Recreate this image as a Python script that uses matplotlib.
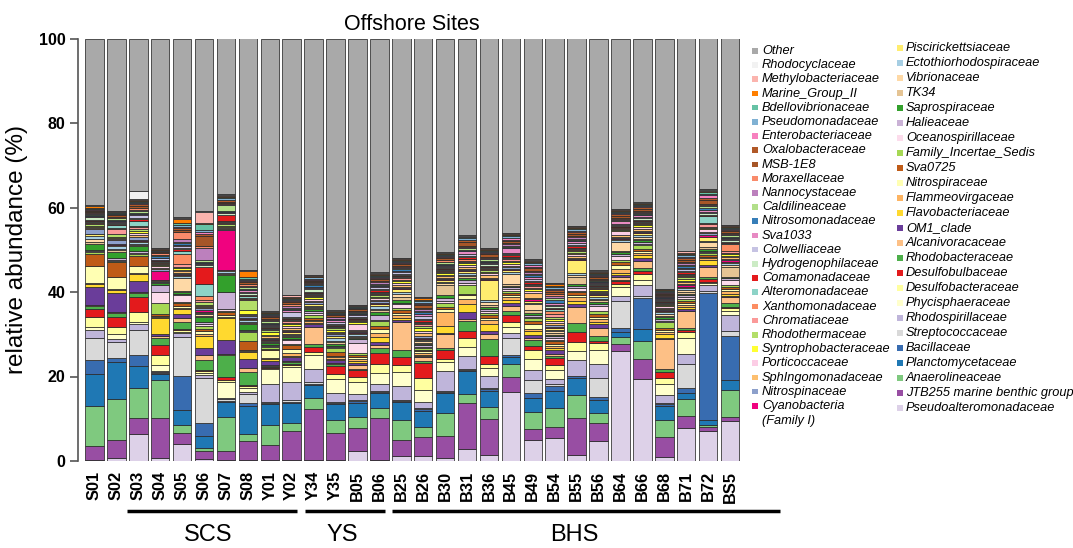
import matplotlib
matplotlib.use("Agg")
import matplotlib.pyplot as plt
from matplotlib.patches import Rectangle
import numpy as np
import pandas as pd

plt.rcParams['font.family'] = ['Liberation Sans', 'DejaVu Sans']

samples = ["S01", "S02", "S03", "S04", "S05", "S06", "S07", "S08", "Y01", "Y02",
           "Y34", "Y35", "B05", "B06", "B25", "B26", "B30", "B31", "B36", "B45",
           "B49", "B54", "B55", "B56", "B64", "B66", "B68", "B71", "B72", "BS5"]

# ---- data (relative abundance, %), stacked bottom -> top ----
Pseudoalteromonadaceae = [0.3, 0.8, 6.5, 0.8, 4.0, 0.4, 0.3, 0.2, 0.2, 0.2, 0.2, 0.3, 2.4, 0.3, 1.2, 1.2, 0.6, 2.8, 1.4, 16.4, 4.9, 5.4, 1.4, 4.8, 26.0, 19.3, 0.9, 7.7, 7.1, 9.6]
JTB255 = [3.2, 4.1, 3.8, 9.5, 2.6, 2.0, 2.0, 4.5, 3.5, 6.9, 12.1, 6.3, 5.3, 9.8, 3.7, 4.5, 5.2, 11.0, 8.5, 3.5, 2.6, 2.7, 8.7, 4.1, 1.6, 4.8, 4.7, 3.0, 0.8, 0.8]
Anaerolineaceae = [9.5, 9.7, 7.2, 9.0, 1.9, 0.8, 8.3, 1.7, 4.8, 2.0, 2.7, 3.2, 2.7, 2.4, 4.8, 2.4, 5.6, 2.0, 2.7, 2.9, 4.1, 4.5, 5.4, 2.4, 1.7, 4.3, 4.1, 3.8, 0.5, 6.5]
Planctomycetaceae = [7.7, 8.9, 5.1, 1.3, 3.5, 2.7, 3.5, 6.7, 4.9, 4.7, 3.0, 3.7, 3.4, 3.6, 4.1, 3.8, 4.7, 5.5, 4.0, 1.8, 3.2, 3.9, 4.1, 3.0, 1.2, 2.8, 3.3, 1.6, 1.2, 2.4]
Bacillaceae = [3.3, 0.9, 2.6, 0.3, 8.1, 3.1, 0.3, 0.6, 0.3, 0.3, 0.3, 0.3, 0.3, 0.3, 0.3, 0.3, 0.3, 0.3, 0.4, 0.4, 1.2, 1.3, 0.3, 0.8, 1.0, 7.4, 0.4, 1.1, 29.8, 10.5]
Streptococcaceae = [5.1, 3.9, 6.1, 0.2, 9.2, 10.6, 0.3, 2.2, 0.2, 0.3, 0.3, 0.2, 0.2, 0.2, 0.2, 0.2, 0.2, 0.2, 0.2, 4.0, 3.2, 0.3, 0.2, 4.5, 6.4, 0.3, 0.2, 5.6, 0.4, 1.0]
Rhodospirillaceae = [1.9, 0.6, 1.3, 0.3, 1.0, 0.8, 0.3, 0.4, 4.4, 4.3, 3.1, 2.0, 1.6, 1.6, 3.3, 1.6, 4.7, 3.0, 2.8, 1.2, 2.2, 1.2, 3.7, 3.2, 1.2, 2.8, 2.0, 2.4, 1.5, 3.9]
Phycisphaeraceae = [0.8, 1.3, 0.5, 1.5, 0.3, 0.4, 3.9, 1.0, 3.5, 3.6, 3.3, 3.5, 2.8, 2.5, 3.4, 2.8, 2.0, 2.2, 2.0, 1.5, 2.6, 2.1, 2.0, 3.4, 2.0, 1.2, 2.6, 3.8, 0.5, 1.0]
Desulfobacteraceae = [2.2, 1.6, 2.3, 2.3, 0.4, 0.5, 0.3, 0.3, 0.3, 0.4, 0.8, 1.0, 1.2, 2.2, 1.7, 2.8, 0.9, 2.0, 0.9, 1.2, 2.2, 1.2, 2.1, 1.7, 0.8, 1.2, 1.4, 1.4, 0.3, 0.7]
Desulfobulbaceae = [2.0, 2.5, 3.7, 2.4, 0.3, 0.3, 0.9, 0.3, 0.2, 0.3, 1.2, 1.9, 1.6, 2.6, 1.8, 3.5, 2.0, 1.8, 1.8, 1.6, 1.0, 1.6, 2.4, 0.4, 0.6, 0.8, 1.4, 0.5, 0.5, 0.3]
Rhodobacteraceae = [0.7, 0.8, 1.0, 1.6, 1.6, 2.4, 5.2, 3.2, 0.2, 0.4, 0.8, 0.5, 0.3, 1.3, 1.7, 0.5, 0.5, 2.3, 4.1, 1.0, 1.3, 0.5, 2.2, 1.2, 0.4, 0.8, 0.8, 0.5, 0.6, 0.8]
Alcanivoracaceae = [0.2, 0.2, 0.2, 0.4, 1.0, 1.2, 0.3, 0.8, 0.3, 0.3, 3.9, 0.4, 0.8, 0.6, 6.6, 0.9, 3.2, 0.4, 1.2, 1.0, 0.5, 0.6, 3.8, 1.8, 0.6, 1.6, 6.9, 3.9, 2.4, 1.4]
OM1_clade = [4.4, 4.6, 2.6, 0.5, 1.0, 1.6, 3.3, 2.1, 0.8, 1.0, 0.8, 0.6, 0.5, 0.8, 0.3, 0.3, 0.4, 1.7, 0.6, 0.8, 0.8, 0.8, 0.6, 1.0, 0.5, 0.8, 0.4, 0.4, 0.3, 0.4]
Flavobacteriaceae = [0.7, 0.8, 1.7, 3.8, 1.2, 2.8, 5.1, 1.7, 0.4, 0.3, 0.3, 0.3, 0.5, 1.0, 0.6, 0.3, 1.6, 2.0, 1.7, 0.8, 0.8, 0.5, 0.8, 0.5, 0.5, 0.5, 0.8, 0.5, 1.2, 0.5]
Flammeovirgaceae = [0.2, 0.2, 0.2, 0.3, 0.3, 0.6, 0.4, 0.3, 0.3, 0.5, 0.3, 0.4, 0.5, 1.0, 0.6, 0.4, 3.4, 1.2, 0.8, 0.5, 0.6, 0.5, 0.8, 0.6, 1.0, 0.5, 0.5, 0.5, 0.4, 0.5]
Nitrospiraceae = [4.0, 2.8, 1.6, 0.3, 0.3, 0.6, 0.3, 0.3, 2.0, 1.1, 0.3, 0.3, 0.5, 1.0, 0.6, 0.4, 0.5, 0.8, 0.5, 0.5, 1.2, 0.5, 0.6, 0.6, 1.0, 0.5, 0.5, 0.5, 0.4, 0.5]
Sva0725 = [2.9, 3.5, 2.5, 0.4, 0.7, 0.6, 0.8, 2.1, 0.3, 0.8, 0.5, 0.8, 0.5, 0.8, 0.6, 0.4, 0.5, 0.4, 0.7, 0.5, 0.6, 0.6, 0.6, 0.8, 0.5, 0.6, 0.6, 0.5, 0.4, 0.5]
Family_Incertae_Sedis = [0.3, 0.3, 0.4, 2.6, 0.3, 0.6, 0.3, 2.0, 0.3, 0.3, 0.8, 1.0, 0.4, 1.0, 0.6, 0.4, 1.0, 2.0, 0.6, 0.5, 0.6, 0.4, 0.4, 0.6, 0.5, 0.8, 1.2, 0.5, 0.4, 0.5]
Oceanospirillaceae = [0.3, 0.3, 0.3, 2.7, 1.6, 0.5, 0.5, 0.3, 0.3, 1.0, 0.3, 0.3, 2.4, 0.4, 0.8, 0.3, 0.5, 0.5, 0.4, 0.4, 0.4, 0.4, 0.5, 1.2, 1.0, 0.4, 0.4, 0.4, 0.3, 1.2]
Halieaceae = [0.3, 0.3, 0.4, 1.7, 0.3, 0.5, 3.9, 0.3, 0.3, 0.3, 0.6, 0.3, 0.8, 1.2, 0.3, 0.3, 0.8, 0.8, 0.6, 0.5, 0.5, 0.4, 0.6, 0.5, 0.5, 0.4, 0.4, 0.4, 0.3, 0.4]
Saprospiraceae = [1.3, 1.6, 1.2, 0.3, 0.4, 1.2, 4.1, 1.3, 0.3, 0.3, 0.3, 0.3, 0.3, 0.6, 0.6, 0.3, 0.5, 0.4, 0.4, 0.4, 0.4, 0.4, 0.5, 0.4, 0.4, 0.4, 0.4, 0.4, 0.4, 0.4]
TK34 = [0.6, 0.4, 0.3, 0.2, 0.3, 0.3, 0.3, 0.3, 0.2, 0.3, 0.3, 0.5, 0.3, 0.4, 0.8, 0.3, 2.4, 0.4, 0.5, 0.4, 0.8, 0.4, 1.6, 0.4, 0.4, 0.4, 0.4, 0.4, 0.4, 2.4]
Vibrionaceae = [0.6, 0.3, 0.3, 0.2, 3.2, 0.3, 0.3, 0.3, 0.2, 0.3, 0.3, 0.3, 0.3, 0.4, 0.8, 0.3, 0.5, 0.4, 0.6, 2.4, 1.2, 0.4, 0.5, 0.4, 2.0, 0.4, 0.4, 0.4, 1.2, 0.4]
Ectothiorhodospiraceae = [0.8, 0.6, 0.4, 0.2, 0.3, 0.3, 0.3, 0.3, 0.2, 0.3, 0.3, 0.8, 0.3, 0.5, 0.5, 0.3, 0.4, 0.4, 0.4, 0.4, 0.4, 0.4, 0.4, 0.4, 0.4, 0.4, 0.4, 0.4, 0.4, 0.4]
Piscirickettsiaceae = [0.4, 0.3, 0.3, 0.2, 0.2, 0.3, 0.3, 0.3, 0.2, 0.3, 0.3, 0.3, 0.3, 0.5, 0.5, 0.3, 0.4, 0.4, 4.8, 0.4, 0.5, 0.4, 3.0, 0.4, 0.4, 0.4, 0.4, 0.4, 0.8, 0.4]
Cyanobacteria = [0.2, 0.1, 0.2, 2.0, 0.3, 0.3, 9.5, 0.3, 0.3, 0.3, 0.2, 0.2, 0.2, 0.3, 0.3, 0.3, 0.2, 0.3, 0.3, 0.3, 0.3, 0.3, 0.3, 0.2, 0.2, 0.3, 0.2, 0.3, 0.4, 0.3]
Nitrospinaceae = [1.0, 1.0, 0.8, 0.6, 0.4, 0.5, 0.3, 0.4, 0.3, 0.3, 0.3, 0.3, 0.3, 0.4, 0.3, 0.5, 0.3, 0.3, 0.3, 0.4, 0.4, 0.4, 0.3, 0.3, 0.3, 0.3, 0.2, 0.3, 0.5, 0.3]
Sphingomonadaceae = [0.3, 0.3, 0.4, 0.3, 0.4, 0.3, 0.3, 0.3, 0.3, 0.4, 0.3, 0.3, 0.3, 0.4, 0.4, 0.5, 0.3, 0.5, 0.6, 0.4, 1.0, 0.5, 0.4, 0.3, 0.3, 0.5, 0.3, 0.4, 0.4, 0.4]
Porticoccaceae = [0.2, 0.2, 0.4, 0.3, 0.3, 0.3, 0.2, 0.3, 0.3, 0.6, 0.6, 0.3, 1.4, 0.3, 0.6, 0.6, 0.4, 0.4, 0.4, 0.5, 0.5, 0.4, 0.4, 0.3, 1.0, 0.4, 0.3, 0.4, 0.5, 0.4]
Syntrophobacteraceae = [0.3, 0.3, 0.5, 0.3, 0.3, 0.3, 0.3, 0.8, 0.8, 0.4, 0.3, 0.5, 0.3, 0.4, 0.4, 0.8, 0.3, 0.4, 0.4, 0.4, 0.5, 0.5, 0.4, 0.3, 0.3, 0.4, 0.3, 0.5, 0.4, 0.4]
Rhodothermaceae = [0.4, 0.6, 0.6, 0.2, 0.4, 0.6, 0.3, 2.4, 0.3, 0.3, 0.3, 0.3, 0.3, 0.3, 0.3, 0.4, 0.3, 0.3, 0.3, 0.3, 0.4, 0.4, 0.3, 0.2, 0.2, 0.3, 0.2, 0.3, 0.3, 0.3]
Chromatiaceae = [0.3, 1.3, 0.4, 0.3, 0.6, 0.4, 0.3, 0.3, 0.2, 0.3, 0.3, 0.2, 0.2, 0.3, 0.3, 0.4, 0.3, 0.3, 0.3, 0.3, 0.3, 0.8, 0.3, 0.2, 0.2, 0.3, 0.2, 0.3, 0.5, 0.4]
Xanthomonadaceae = [0.3, 0.3, 0.3, 0.2, 2.4, 1.0, 0.3, 0.3, 0.2, 0.3, 0.2, 0.2, 0.2, 0.3, 0.3, 0.3, 0.2, 0.3, 0.3, 0.3, 0.3, 0.8, 0.3, 0.2, 0.2, 0.3, 0.2, 0.3, 0.3, 1.6]
Alteromonadaceae = [0.2, 0.6, 1.2, 0.2, 0.8, 2.8, 0.3, 0.3, 0.2, 0.2, 0.2, 0.2, 0.2, 0.3, 0.2, 0.3, 0.2, 0.2, 0.2, 0.3, 0.3, 0.3, 0.3, 0.2, 0.2, 0.2, 0.2, 0.3, 1.6, 0.3]
Comamonadaceae = [0.3, 0.3, 0.3, 0.2, 0.4, 4.2, 1.4, 0.4, 0.2, 0.3, 0.2, 0.2, 0.2, 0.3, 0.3, 0.3, 0.2, 0.3, 0.3, 0.3, 0.3, 0.4, 0.3, 0.2, 0.2, 0.2, 0.2, 0.3, 0.4, 0.3]
Hydrogenophilaceae = [0.5, 0.3, 0.4, 0.2, 0.3, 0.3, 0.3, 0.3, 0.2, 0.3, 0.8, 0.3, 0.2, 0.3, 0.3, 0.4, 0.3, 0.3, 0.3, 0.3, 0.3, 0.3, 0.3, 0.2, 0.2, 0.4, 0.2, 0.3, 0.3, 0.3]
Colwelliaceae = [0.2, 0.2, 0.6, 0.3, 0.3, 0.3, 0.2, 0.4, 0.3, 1.2, 0.3, 0.3, 0.4, 0.4, 0.4, 0.5, 0.3, 0.4, 0.3, 0.4, 0.4, 0.4, 0.4, 0.3, 0.3, 0.3, 0.2, 0.4, 0.4, 0.3]
Sva1033 = [0.2, 0.2, 0.2, 0.2, 0.3, 0.3, 0.2, 0.3, 0.2, 0.3, 0.2, 0.5, 0.3, 0.3, 0.3, 0.6, 0.2, 0.8, 0.3, 1.0, 0.6, 0.4, 0.5, 0.2, 0.5, 0.4, 0.2, 0.4, 0.4, 0.3]
Nitrosomonadaceae = [0.2, 0.3, 0.3, 0.3, 0.4, 0.3, 0.3, 0.4, 0.3, 0.3, 0.3, 0.2, 0.2, 0.3, 0.3, 0.4, 0.3, 0.3, 0.3, 0.3, 0.4, 0.8, 0.3, 0.2, 0.2, 0.3, 0.2, 0.3, 0.5, 0.3]
Caldilineaceae = [0.3, 0.3, 0.5, 0.2, 0.3, 0.3, 1.3, 0.3, 0.3, 0.4, 0.3, 0.2, 0.2, 0.3, 0.3, 0.4, 0.3, 0.3, 0.3, 0.3, 0.4, 0.4, 0.3, 0.2, 0.2, 0.3, 0.2, 0.4, 0.3, 0.3]
Nannocystaceae = [0.2, 0.2, 0.3, 0.2, 0.8, 2.8, 0.2, 0.4, 0.3, 0.3, 0.3, 0.3, 0.2, 0.3, 0.3, 0.4, 0.2, 0.3, 0.3, 0.3, 0.4, 0.4, 0.3, 0.2, 0.2, 0.2, 0.2, 0.3, 0.3, 0.3]
Moraxellaceae = [0.2, 0.2, 0.3, 0.3, 1.6, 0.6, 0.2, 0.3, 0.2, 0.5, 0.2, 0.2, 0.2, 0.3, 0.3, 0.3, 0.3, 0.3, 0.3, 0.3, 0.3, 0.4, 0.3, 0.2, 0.2, 0.3, 0.2, 0.3, 0.3, 0.3]
MSB_1E8 = [0.3, 0.3, 0.6, 0.3, 0.5, 2.4, 0.4, 0.5, 0.6, 0.5, 0.3, 0.3, 0.3, 0.4, 0.3, 0.5, 0.5, 1.0, 0.6, 0.4, 0.5, 0.6, 0.6, 0.4, 0.5, 0.5, 0.3, 0.6, 1.0, 0.4]
Oxalobacteraceae = [0.2, 0.3, 0.5, 0.2, 0.4, 0.5, 0.3, 0.3, 0.3, 0.3, 0.3, 0.2, 0.2, 0.3, 0.3, 0.4, 0.3, 0.3, 0.3, 0.3, 0.4, 0.4, 0.4, 0.3, 0.4, 0.3, 0.2, 0.4, 0.4, 0.3]
Enterobacteriaceae = [0.1, 0.1, 0.2, 0.1, 0.3, 0.3, 0.2, 0.2, 0.2, 0.2, 0.2, 0.2, 0.2, 0.2, 0.2, 0.3, 0.2, 0.2, 0.2, 0.6, 0.4, 0.3, 0.3, 0.2, 0.2, 0.2, 0.2, 0.3, 0.6, 0.2]
Pseudomonadaceae = [0.2, 0.2, 0.3, 0.2, 0.5, 0.6, 0.3, 0.4, 0.2, 0.3, 0.3, 0.2, 0.2, 0.3, 0.3, 0.4, 0.3, 0.3, 0.3, 0.3, 0.4, 0.4, 0.3, 0.3, 0.3, 0.3, 0.2, 0.3, 0.4, 0.3]
Bdellovibrionaceae = [0.1, 0.1, 0.2, 0.1, 0.4, 1.4, 0.3, 0.3, 0.2, 0.2, 0.2, 0.2, 0.1, 0.2, 0.2, 0.3, 0.2, 0.2, 0.2, 0.3, 0.3, 0.3, 0.3, 0.2, 0.2, 0.2, 0.2, 0.3, 0.3, 0.3]
Marine_Group_II = [0.5, 0.2, 0.2, 0.2, 0.9, 0.3, 0.2, 1.4, 0.2, 0.2, 0.2, 0.2, 0.1, 0.3, 0.2, 0.3, 0.2, 0.2, 0.2, 0.3, 0.3, 0.5, 0.3, 0.3, 0.3, 0.2, 0.2, 0.3, 0.3, 0.2]
Methylobacteriaceae = [0.1, 0.1, 0.2, 0.1, 0.3, 2.5, 0.2, 0.2, 0.1, 0.4, 0.1, 0.1, 0.1, 0.2, 0.2, 0.2, 0.1, 0.2, 0.2, 0.2, 0.3, 0.2, 0.2, 0.2, 0.2, 0.2, 0.1, 0.3, 0.3, 0.2]
Rhodocyclaceae = [0.1, 0.1, 2.0, 0.1, 0.2, 0.2, 0.3, 0.1, 0.1, 0.1, 0.1, 0.1, 0.1, 0.2, 0.1, 0.1, 0.1, 0.1, 0.1, 0.1, 0.2, 0.1, 0.1, 0.1, 0.1, 0.1, 0.1, 0.1, 0.2, 0.1]
Other = [39.5, 40.9, 36.3, 49.7, 42.4, 41.0, 37.1, 54.7, 64.5, 60.8, 56.0, 64.3, 62.9, 55.2, 51.7, 61.0, 50.5, 46.6, 49.3, 45.8, 51.9, 57.6, 44.0, 54.7, 40.3, 38.7, 59.0, 50.0, 35.3, 44.2]

# (label, values, color) stacked from bottom to top
series = [
    ("Pseudoalteromonadaceae", Pseudoalteromonadaceae, "#ddd1e8"),
    ("JTB255 marine benthic group", JTB255, "#984ea3"),
    ("Anaerolineaceae", Anaerolineaceae, "#7fc97f"),
    ("Planctomycetaceae", Planctomycetaceae, "#1f78b4"),
    ("Bacillaceae", Bacillaceae, "#386cb0"),
    ("Streptococcaceae", Streptococcaceae, "#d9d9d9"),
    ("Rhodospirillaceae", Rhodospirillaceae, "#bfb5da"),
    ("Phycisphaeraceae", Phycisphaeraceae, "#ffffcc"),
    ("Desulfobacteraceae", Desulfobacteraceae, "#ffffa0"),
    ("Desulfobulbaceae", Desulfobulbaceae, "#e31a1c"),
    ("Rhodobacteraceae", Rhodobacteraceae, "#4daf4a"),
    ("Alcanivoracaceae", Alcanivoracaceae, "#fdc086"),
    ("OM1_clade", OM1_clade, "#6a3d9a"),
    ("Flavobacteriaceae", Flavobacteriaceae, "#ffd92f"),
    ("Flammeovirgaceae", Flammeovirgaceae, "#fdb462"),
    ("Nitrospiraceae", Nitrospiraceae, "#ffffb3"),
    ("Sva0725", Sva0725, "#bf5b17"),
    ("Family_Incertae_Sedis", Family_Incertae_Sedis, "#a6d854"),
    ("Oceanospirillaceae", Oceanospirillaceae, "#fcdcec"),
    ("Halieaceae", Halieaceae, "#cab2d6"),
    ("Saprospiraceae", Saprospiraceae, "#33a02c"),
    ("TK34", TK34, "#e5c494"),
    ("Vibrionaceae", Vibrionaceae, "#fed9a6"),
    ("Ectothiorhodospiraceae", Ectothiorhodospiraceae, "#a6cee3"),
    ("Piscirickettsiaceae", Piscirickettsiaceae, "#ffed6f"),
    ("Cyanobacteria", Cyanobacteria, "#f0027f"),
    ("Nitrospinaceae", Nitrospinaceae, "#8da0cb"),
    ("SphIngomonadaceae", Sphingomonadaceae, "#fdbf6f"),
    ("Porticoccaceae", Porticoccaceae, "#fccde5"),
    ("Syntrophobacteraceae", Syntrophobacteraceae, "#ffff33"),
    ("Rhodothermaceae", Rhodothermaceae, "#b3de69"),
    ("Chromatiaceae", Chromatiaceae, "#fb9a99"),
    ("Xanthomonadaceae", Xanthomonadaceae, "#fc8d62"),
    ("Alteromonadaceae", Alteromonadaceae, "#8dd3c7"),
    ("Comamonadaceae", Comamonadaceae, "#e41a1c"),
    ("Hydrogenophilaceae", Hydrogenophilaceae, "#ccebc5"),
    ("Colwelliaceae", Colwelliaceae, "#c6c3e3"),
    ("Sva1033", Sva1033, "#e78ac3"),
    ("Nitrosomonadaceae", Nitrosomonadaceae, "#377eb8"),
    ("Caldilineaceae", Caldilineaceae, "#b2df8a"),
    ("Nannocystaceae", Nannocystaceae, "#bc80bd"),
    ("Moraxellaceae", Moraxellaceae, "#f98b6b"),
    ("MSB-1E8", MSB_1E8, "#a65628"),
    ("Oxalobacteraceae", Oxalobacteraceae, "#b15928"),
    ("Enterobacteriaceae", Enterobacteriaceae, "#f781bf"),
    ("Pseudomonadaceae", Pseudomonadaceae, "#80b1d3"),
    ("Bdellovibrionaceae", Bdellovibrionaceae, "#66c2a5"),
    ("Marine_Group_II", Marine_Group_II, "#ff7f00"),
    ("Methylobacteriaceae", Methylobacteriaceae, "#fbb4ae"),
    ("Rhodocyclaceae", Rhodocyclaceae, "#f2f2f2"),
    ("Other", Other, "#a9a9a9"),
]

df = pd.DataFrame({name: vals for name, vals, _ in series}, index=samples)
df = df.div(df.sum(axis=1), axis=0) * 100.0

groups = [("SCS", 1.48, 9.25, 5.18), ("YS", 9.6, 13.27, 11.3), ("BHS", 13.58, 31.3, 21.9)]

W, H = 1073, 548
fig = plt.figure(figsize=(W / 100, H / 100), dpi=100)
ax = fig.add_axes([78 / W, 1 - 461 / H, 667 / W, 422.5 / H])

x = np.arange(len(samples))
bottom = np.zeros(len(samples))
for name, _, col in series:
    v = df[name].values
    ax.bar(x, v, 0.845, bottom=bottom, color=col, edgecolor="#2a2a2a",
           linewidth=0.55, zorder=2)
    bottom += v

ax.set_xlim(-0.753, 29.685)
ax.set_ylim(0, 100)
for s in ["top", "right", "bottom"]:
    ax.spines[s].set_visible(False)
ax.spines["left"].set_color("#555555")
ax.spines["left"].set_linewidth(1.2)
ax.set_yticks([0, 20, 40, 60, 80, 100])
ax.set_yticklabels(["0", "20", "40", "60", "80", "100"], fontweight="bold", fontsize=11.5)
ax.tick_params(axis="y", length=6, width=1.2, color="#555555", pad=3)
ax.set_xticks(x)
ax.set_xticklabels(samples, rotation=90, fontweight="bold", fontsize=11.8)
ax.tick_params(axis="x", length=0, pad=7)
ax.set_ylabel("relative abundance (%)", fontsize=17.5, labelpad=8)
ax.set_title("Offshore Sites", fontsize=15.5, pad=6)

tr = ax.get_xaxis_transform()
for lab, x0, x1, xc in groups:
    ax.plot([x0, x1], [-0.118, -0.118], color="black", lw=2.5, transform=tr,
            clip_on=False, solid_capstyle="butt")
    ax.text(xc, -0.175, lab, transform=tr, ha="center", va="center", fontsize=17)

# ---- manual two-column legend ----
col1 = [s for s in series[25:]][::-1]
col2 = [s for s in series[:25]][::-1]
fs_leg = 9.2


def add_entry(xm, xt, yc, label, color):
    fig.add_artist(Rectangle((xm / W, 1 - (yc + 2.5) / H), 5.5 / W, 5.5 / H,
                             transform=fig.transFigure, facecolor=color,
                             edgecolor="none"))
    fig.text(xt / W, 1 - yc / H, label, ha="left", va="center",
             style="italic", fontsize=fs_leg)


for i, (name, _, col) in enumerate(col1):
    yc = 51 + 14.2 * i
    add_entry(752, 762, yc, name, col)
    if name == "Cyanobacteria":
        fig.text(762 / W, 1 - (yc + 15) / H, "(Family I)", ha="left",
                 va="center", style="italic", fontsize=fs_leg)

for i, (name, _, col) in enumerate(col2):
    yc = 48.3 + 15.0 * i
    add_entry(897, 906, yc, name, col)

fig.savefig("out.png", dpi=100)
